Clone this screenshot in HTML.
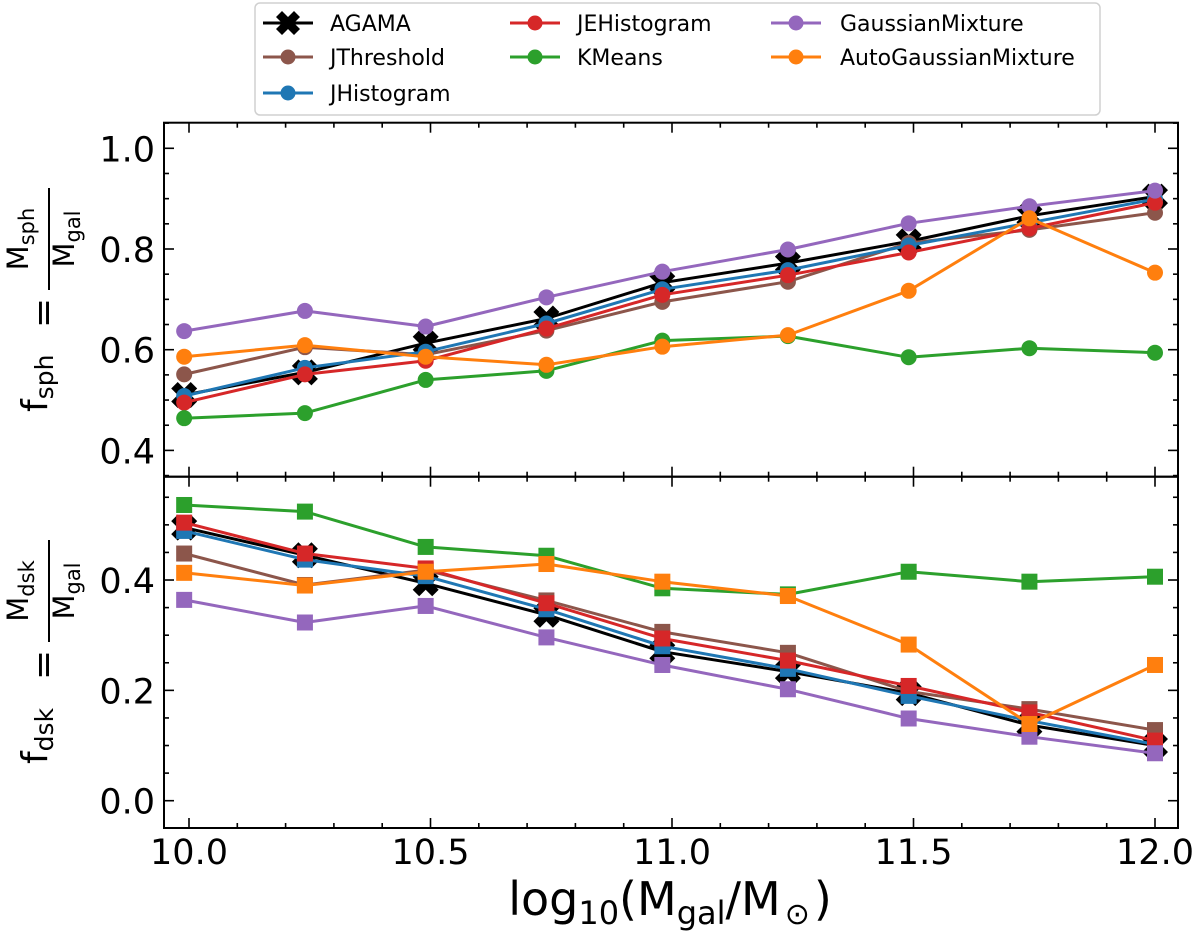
<!DOCTYPE html>
<html><head><meta charset="utf-8">
<style>
html,body{margin:0;padding:0;background:#fff;}
svg{display:block;font-family:"DejaVu Sans","Liberation Sans",sans-serif;}
</style></head>
<body>
<svg id="chart" width="1200" height="936" viewBox="0 0 1200 936" xmlns="http://www.w3.org/2000/svg">
  <rect x="0" y="0" width="1200" height="936" fill="#fff"/>
  <g id="plots"></g>
  <g id="axes"></g>
  <g id="labels">
    <text x="670" y="915" font-size="46" text-anchor="middle">log<tspan font-size="32" dy="9">10</tspan><tspan dy="-9">(M</tspan><tspan font-size="32" dy="9">gal</tspan><tspan dy="-9">/M</tspan><tspan font-size="30" dy="9" dx="4">⊙</tspan><tspan dy="-9" dx="4">)</tspan></text>
    <g transform="translate(0,300) rotate(-90)">
      <text x="-112" y="47" font-size="36">f<tspan font-size="25" dy="6">sph</tspan></text>
      <text x="-28" y="55" font-size="36">=</text>
      <line x1="10" y1="49" x2="112" y2="49" stroke="#000" stroke-width="2"/>
      <text x="61" y="28" font-size="29" text-anchor="middle">M<tspan font-size="21" dy="6">sph</tspan></text>
      <text x="61" y="74" font-size="29" text-anchor="middle">M<tspan font-size="21" dy="6">gal</tspan></text>
    </g>
    <g transform="translate(0,652) rotate(-90)">
      <text x="-112" y="47" font-size="36">f<tspan font-size="25" dy="6">dsk</tspan></text>
      <text x="-28" y="55" font-size="36">=</text>
      <line x1="10" y1="49" x2="112" y2="49" stroke="#000" stroke-width="2"/>
      <text x="61" y="28" font-size="29" text-anchor="middle">M<tspan font-size="21" dy="6">dsk</tspan></text>
      <text x="61" y="74" font-size="29" text-anchor="middle">M<tspan font-size="21" dy="6">gal</tspan></text>
    </g>
  </g>
  <g id="legend"></g>
</svg>
<script>
const xValues = [9.99, 10.24, 10.49, 10.74, 10.98, 11.24, 11.49, 11.74, 12.0];
const seriesNames = ["AGAMA","JThreshold","JHistogram","JEHistogram","KMeans","GaussianMixture","AutoGaussianMixture"];
const seriesColors = ["#000000","#8c564b","#1f77b4","#d62728","#2ca02c","#9467bd","#ff7f0e"];
const sphAGAMA = [0.51,0.555,0.613,0.662,0.733,0.772,0.815,0.866,0.904];
const sphJThreshold = [0.551,0.605,0.59,0.638,0.695,0.735,0.812,0.838,0.872];
const sphJHistogram = [0.508,0.564,0.596,0.652,0.72,0.758,0.807,0.852,0.899];
const sphJEHistogram = [0.495,0.551,0.578,0.642,0.709,0.748,0.793,0.841,0.892];
const sphKMeans = [0.464,0.474,0.54,0.558,0.618,0.627,0.585,0.603,0.594];
const sphGaussianMixture = [0.637,0.677,0.646,0.704,0.755,0.799,0.851,0.885,0.916];
const sphAutoGaussianMixture = [0.586,0.609,0.586,0.57,0.606,0.629,0.717,0.861,0.753];
const dskAGAMA = [0.495,0.445,0.394,0.337,0.27,0.234,0.195,0.137,0.1];
const dskJThreshold = [0.448,0.391,0.418,0.363,0.306,0.268,0.198,0.166,0.128];
const dskJHistogram = [0.489,0.437,0.407,0.347,0.28,0.239,0.19,0.145,0.102];
const dskJEHistogram = [0.504,0.448,0.421,0.358,0.294,0.254,0.208,0.16,0.109];
const dskKMeans = [0.536,0.524,0.46,0.444,0.385,0.374,0.415,0.397,0.406];
const dskGaussianMixture = [0.364,0.323,0.353,0.296,0.246,0.202,0.149,0.116,0.086];
const dskAutoGaussianMixture = [0.413,0.39,0.415,0.429,0.397,0.371,0.283,0.139,0.246];
const xTicks = [10.0,10.5,11.0,11.5,12.0];
const xTickLabels = ["10.0","10.5","11.0","11.5","12.0"];
const topYTicks = [0.4,0.6,0.8,1.0];
const topYTickLabels = ["0.4","0.6","0.8","1.0"];
const botYTicks = [0.0,0.2,0.4];
const botYTickLabels = ["0.0","0.2","0.4"];

const sphSeries = [sphAGAMA,sphJThreshold,sphJHistogram,sphJEHistogram,sphKMeans,sphGaussianMixture,sphAutoGaussianMixture];
const dskSeries = [dskAGAMA,dskJThreshold,dskJHistogram,dskJEHistogram,dskKMeans,dskGaussianMixture,dskAutoGaussianMixture];

const NS="http://www.w3.org/2000/svg";
function mk(tag, attrs, parent){const e=document.createElementNS(NS,tag);for(const k in attrs)e.setAttribute(k,attrs[k]);if(parent)parent.appendChild(e);return e;}

const L=164,R=1178;
const X=v=>189+(v-10)*483;
const topPanel={y0:122.7,y1:476.7,Y:v=>148.3+(1.0-v)*503.5,min:0.349,max:1.051};
const botPanel={y0:476.7,y1:828,Y:v=>800.7-v*551.7,min:-0.049,max:0.589};

function xMarker(cx,cy,s,parent){
  const p=[[-1,-0.5],[-0.5,-1],[0,-0.5],[0.5,-1],[1,-0.5],[0.5,0],[1,0.5],[0.5,1],[0,0.5],[-0.5,1],[-1,0.5],[-0.5,0]];
  return mk('polygon',{points:p.map(q=>(cx+q[0]*s).toFixed(1)+','+(cy+q[1]*s).toFixed(1)).join(' '),fill:'#000'},parent);
}

const plots=document.getElementById('plots');
function drawPanel(panel,series,shape,prefix){
  series.forEach((vals,i)=>{
    const g=mk('g',{},plots);
    
    
    const col=seriesColors[i];
    const pts=vals.map((v,j)=>[X(xValues[j]),panel.Y(v)]);
    const line=mk('polyline',{points:pts.map(p=>p[0].toFixed(1)+','+p[1].toFixed(1)).join(' '),fill:'none',stroke:col,'stroke-width':3,'stroke-linejoin':'round'},g);
    
    
    pts.forEach(p=>{
      let m;
      if(i===0){m=xMarker(p[0],p[1],13,g);}
      else if(shape==='circle'){m=mk('circle',{cx:p[0],cy:p[1],r:8,fill:col},g);}
      else {m=mk('rect',{x:p[0]-8,y:p[1]-8,width:16,height:16,fill:col},g);}
      
      
    });
  });
}
drawPanel(topPanel,sphSeries,'circle','sph');
drawPanel(botPanel,dskSeries,'square','dsk');

const axes=document.getElementById('axes');
function drawAxes(panel,yt,ytl,showX,name){
  const g=mk('g',{},axes);
  
  
  mk('rect',{x:L,y:panel.y0,width:R-L,height:panel.y1-panel.y0,fill:'none',stroke:'#000','stroke-width':2},g);
  for(let k=0;k<=25;k++){
    const v=9.8+k*0.1; const x=X(v);
    if(x<L+1||x>R-1)continue;
    const major=Math.abs(v*2-Math.round(v*2))<1e-6;
    const len=major?10:5;
    mk('line',{x1:x,y1:panel.y1,x2:x,y2:panel.y1-len,stroke:'#000','stroke-width':1.6},g);
    mk('line',{x1:x,y1:panel.y0,x2:x,y2:panel.y0+len,stroke:'#000','stroke-width':1.6},g);
  }
  for(let k=-2;k<=22;k++){
    const v=k*0.05; const y=panel.Y(v);
    if(v<panel.min||v>panel.max)continue;
    const major=Math.abs(v*5-Math.round(v*5))<1e-6;
    const len=major?10:5;
    mk('line',{x1:L,y1:y,x2:L+len,y2:y,stroke:'#000','stroke-width':1.6},g);
    mk('line',{x1:R,y1:y,x2:R-len,y2:y,stroke:'#000','stroke-width':1.6},g);
  }
  yt.forEach((v,i)=>{
    const t=mk('text',{x:155,y:panel.Y(v)+13,'font-size':35,'text-anchor':'end'},g);
    t.textContent=ytl[i];
    
    
  });
  if(showX){
    xTicks.forEach((v,i)=>{
      const t=mk('text',{x:X(v),y:864,'font-size':35,'text-anchor':'middle'},g);
      t.textContent=xTickLabels[i];
      
      
    });
  }
}
drawAxes(topPanel,topYTicks,topYTickLabels,false,'top-panel-axes');
drawAxes(botPanel,botYTicks,botYTickLabels,true,'bottom-panel-axes');

const leg=document.getElementById('legend');
mk('rect',{x:255,y:3,width:845,height:112,rx:5,fill:'#fff','fill-opacity':0.85,stroke:'#d0d0d0','stroke-width':1.5},leg);
const legCols=[[288,330],[535,577],[796,840]];
const legRows=[23,57,93];
const legPos=[[0,0],[0,1],[0,2],[1,0],[1,1],[2,0],[2,1]];
seriesNames.forEach((n,i)=>{
  const c=legCols[legPos[i][0]], y=legRows[legPos[i][1]];
  const g=mk('g',{},leg);
  
  
  mk('line',{x1:c[0]-25,y1:y,x2:c[0]+25,y2:y,stroke:seriesColors[i],'stroke-width':3},g);
  if(i===0) xMarker(c[0],y,12,g); else mk('circle',{cx:c[0],cy:y,r:7.5,fill:seriesColors[i]},g);
  const t=mk('text',{x:c[1],y:y+8,'font-size':22},g);
  t.textContent=n;
});
</script>
</body></html>
